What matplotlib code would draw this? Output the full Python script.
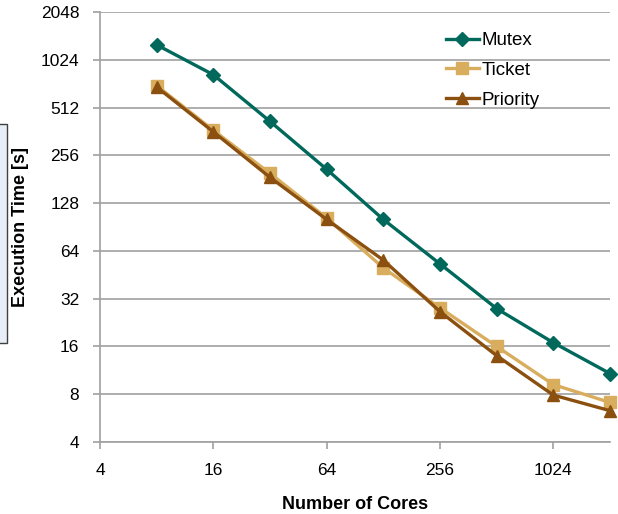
import matplotlib
matplotlib.use("Agg")
import matplotlib.pyplot as plt
from matplotlib.patches import Rectangle

plt.rcParams['font.family'] = ['Liberation Sans', 'DejaVu Sans']

# data
cores = [8, 16, 32, 64, 128, 256, 512, 1024, 2048]
mutex = [1272, 824, 419, 209, 101, 53, 27.7, 16.9, 10.8]
ticket = [704, 368, 197, 103, 50, 28, 16, 9.2, 7.1]
priority = [690, 360, 186, 101, 56, 26.5, 14, 7.9, 6.3]
xticks = [4, 16, 64, 256, 1024]
yticks = [4, 8, 16, 32, 64, 128, 256, 512, 1024, 2048]

W, H = 618, 514
fig = plt.figure(figsize=(W / 100, H / 100), dpi=100)
ax = fig.add_axes([100 / W, 1 - 442 / H, 510 / W, 430 / H])

# partial box at the left edge behind the y label
fig.patches.append(Rectangle((-2 / W, 1 - 343 / H), 9 / W, 219 / H,
                             transform=fig.transFigure, facecolor='#E8EEF8',
                             edgecolor='#404040', lw=1, zorder=0))

ax.plot(cores, mutex, color='#00695C', lw=2.4, marker='D', ms=7,
        label='Mutex', clip_on=False, zorder=5)
ax.plot(cores, ticket, color='#D9AD5E', lw=2.4, marker='s', ms=8.5,
        label='Ticket', clip_on=False, zorder=3)
ax.plot(cores, priority, color='#8B5010', lw=2.4, marker='^', ms=8.5,
        label='Priority', clip_on=False, zorder=4)

ax.set_xscale('log', base=2)
ax.set_yscale('log', base=2)
ax.set_xlim(4, 2048)
ax.set_ylim(4, 2048)
ax.set_xticks(xticks)
ax.set_xticklabels([str(t) for t in xticks])
ax.set_yticks(yticks)
ax.set_yticklabels([str(t) for t in yticks])
ax.minorticks_off()

ax.yaxis.grid(True, color='#A0A0A0', lw=1.2)
ax.set_axisbelow(True)
for s in ['top', 'right']:
    ax.spines[s].set_visible(False)
for s in ['left', 'bottom']:
    ax.spines[s].set_color('#A0A0A0')
    ax.spines[s].set_linewidth(1.2)
ax.tick_params(axis='both', colors='#A0A0A0', labelcolor='black',
               labelsize=12.5, length=5, width=1.2)
ax.tick_params(axis='y', pad=10)
ax.tick_params(axis='x', pad=10)

ax.set_xlabel('Number of Cores', fontsize=13, fontweight='bold', labelpad=13)
fig.text(21 / W, 1 - 227 / H, 'Execution Time [s]', rotation=90,
         ha='center', va='center', fontsize=13, fontweight='bold')

ax.legend(loc='upper left', bbox_to_anchor=(446 / W, 1 - 32 / H),
          bbox_transform=fig.transFigure, frameon=False, borderpad=0,
          borderaxespad=0, fontsize=13.5, handlelength=1.75,
          handletextpad=0.15, labelspacing=0.68)

fig.savefig('out.png', dpi=100)
